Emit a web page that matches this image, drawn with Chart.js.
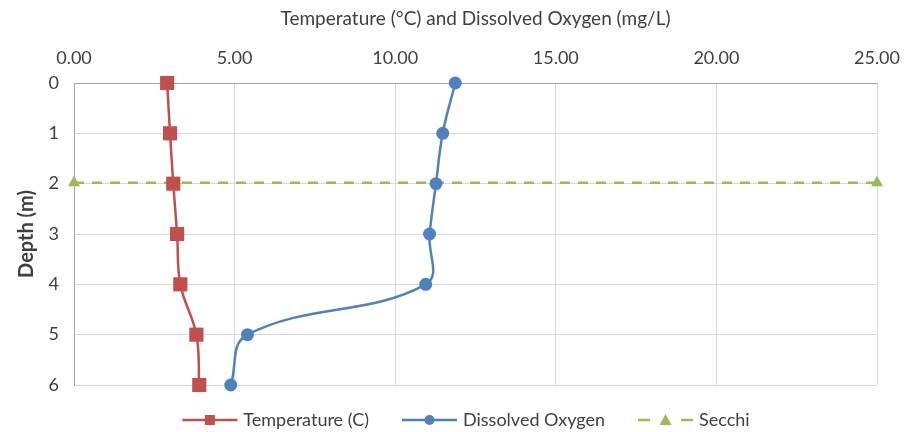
<!DOCTYPE html>
<html><head><meta charset="utf-8">
<script src="https://cdn.jsdelivr.net/npm/chart.js@4/dist/chart.umd.min.js"></script>
<style>html,body{margin:0;padding:0;background:#fff}#w{width:922px;height:432px}</style>
</head><body><div id="w"><canvas id="c"></canvas></div>
<script>
const depths = [0, 1, 2, 3, 4, 5, 6];
const temperature = [2.90, 2.99, 3.09, 3.21, 3.31, 3.81, 3.90];
const dissolvedOxygen = [11.87, 11.48, 11.27, 11.07, 10.95, 5.40, 4.88];
const secchiDepth = 1.98;
const secchiX = [0, 25];
const xTicks = [0, 5, 10, 15, 20, 25];
const depthTicks = [0, 1, 2, 3, 4, 5, 6];

const FONT = 'Lato, "Liberation Sans", sans-serif';
const TEXT = '#404040';
const RED = '#C0504D', BLUE = '#4F81BD', GREEN = '#9BBB59';

// custom legend drawn below the plot (line + marker + label)
const legendPlugin = {
  id: 'lineLegend',
  afterDraw(chart) {
    const ctx = chart.ctx;
    const y = 420;
    const lineLen = 55, gapText = 6, gapItem = 33;
    ctx.save();
    ctx.font = '18px ' + FONT;
    const items = chart.data.datasets.map(ds => ({ ds, w: ctx.measureText(ds.label).width }));
    const total = items.reduce((s, it) => s + lineLen + gapText + it.w, 0) + gapItem * (items.length - 1);
    let x = 466 - total / 2;
    items.forEach(({ ds, w }) => {
      ctx.strokeStyle = ds.borderColor; ctx.fillStyle = ds.borderColor; ctx.lineWidth = 2.5;
      ctx.setLineDash([]);
      ctx.beginPath();
      if (ds.borderDash) {
        ctx.moveTo(x, y); ctx.lineTo(x + 12, y);
        ctx.moveTo(x + lineLen - 12, y); ctx.lineTo(x + lineLen, y);
      } else {
        ctx.moveTo(x, y); ctx.lineTo(x + lineLen, y);
      }
      ctx.stroke();
      const cx = x + lineLen / 2;
      ctx.beginPath();
      if (ds.pointStyle === 'rect') ctx.rect(cx - 5, y - 5, 10, 10);
      else if (ds.pointStyle === 'circle') ctx.arc(cx, y, 5, 0, Math.PI * 2);
      else { ctx.moveTo(cx, y - 6); ctx.lineTo(cx + 6, y + 5); ctx.lineTo(cx - 6, y + 5); ctx.closePath(); }
      ctx.fill();
      ctx.fillStyle = TEXT; ctx.textBaseline = 'middle'; ctx.textAlign = 'left';
      ctx.fillText(ds.label, x + lineLen + gapText, y);
      x += lineLen + gapText + w + gapItem;
    });
    ctx.restore();
  }
};

new Chart(document.getElementById('c'), {
  type: 'scatter',
  data: {
    datasets: [
      {
        label: 'Temperature (C)',
        data: depths.map((d, i) => ({ x: temperature[i], y: d })),
        showLine: true, tension: 0.4, borderColor: RED, backgroundColor: RED,
        borderWidth: 2.5, pointStyle: 'rect', pointRadius: 10, pointHoverRadius: 10,
        pointBorderWidth: 0, clip: false
      },
      {
        label: 'Dissolved Oxygen',
        data: depths.map((d, i) => ({ x: dissolvedOxygen[i], y: d })),
        showLine: true, tension: 0.4, borderColor: BLUE, backgroundColor: BLUE,
        borderWidth: 2.5, pointStyle: 'circle', pointRadius: 6.5, pointHoverRadius: 6.5,
        pointBorderWidth: 0, clip: false
      },
      {
        label: 'Secchi',
        data: secchiX.map(x => ({ x: x, y: secchiDepth })),
        showLine: true, borderColor: GREEN, backgroundColor: GREEN, borderDash: [10, 8],
        borderWidth: 2.5, pointStyle: 'triangle', pointRadius: 7, pointHoverRadius: 7,
        pointBorderWidth: 0, clip: false
      }
    ]
  },
  options: {
    responsive: true, maintainAspectRatio: false, animation: false,
    layout: { padding: { left: 0, right: 45, top: 0, bottom: 47 } },
    plugins: {
      tooltip: { enabled: false },
      legend: { display: false }
    },
    scales: {
      x: {
        type: 'linear', position: 'top', min: 0, max: 25,
        afterBuildTicks: s => { s.ticks = xTicks.map(v => ({ value: v })); },
        afterFit: s => { s.height = 83; },
        ticks: { color: TEXT, font: { family: FONT, size: 18 }, padding: 14, callback: v => Number(v).toFixed(2), maxRotation: 0 },
        title: { display: true, text: 'Temperature (°C) and Dissolved Oxygen (mg/L)', color: TEXT, font: { family: FONT, size: 19 }, padding: { top: 7, bottom: 0 } },
        grid: { color: '#D9D9D9', lineWidth: 1, drawTicks: false },
        border: { color: '#A6A6A6' }
      },
      y: {
        type: 'linear', reverse: true, min: 0, max: 6,
        afterBuildTicks: s => { s.ticks = depthTicks.map(v => ({ value: v })); },
        afterFit: s => { s.width = 74; },
        ticks: { color: TEXT, font: { family: FONT, size: 18 }, padding: 15 },
        title: { display: true, text: 'Depth (m)', color: TEXT, font: { family: FONT, size: 20, weight: 'bold' }, padding: { top: 15, bottom: 0 } },
        grid: { color: '#D9D9D9', lineWidth: 1, drawTicks: false },
        border: { color: '#A6A6A6' }
      }
    }
  },
  plugins: [legendPlugin]
});
</script>
</body></html>
